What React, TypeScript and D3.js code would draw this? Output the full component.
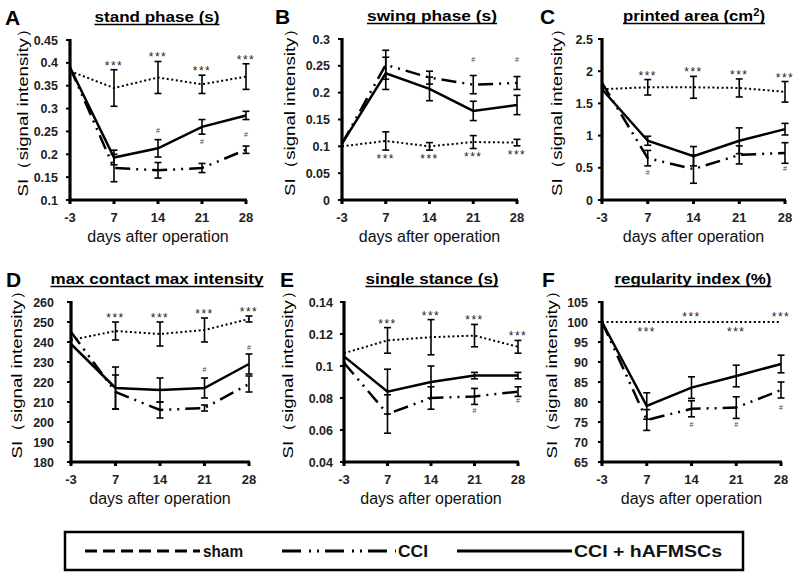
import React from "react";
import * as d3 from "d3";

// ---------- DATA ----------
const days = ["-3", "7", "14", "21", "28"];

// A: stand phase (s)
const ticksA = [0.1, 0.15, 0.2, 0.25, 0.3, 0.35, 0.4, 0.45];
const shamA = [0.382, 0.345, 0.368, 0.353, 0.37];
const shamErrA = [0, 0.04, 0.035, 0.02, 0.028];
const cciA = [0.39, 0.17, 0.165, 0.17, 0.21];
const cciErrA = [0, 0.03, 0.017, 0.01, 0.008];
const treatA = [0.39, 0.193, 0.213, 0.26, 0.285];
const treatErrA = [0, 0.016, 0.019, 0.016, 0.009];
const sigA = ["up", "up", "up", "up"];
const hashDaysA = ["14", "21", "28"];
const hashValsA = [0.253, 0.23, 0.245];

// B: swing phase (s)
const ticksB = [0, 0.05, 0.1, 0.15, 0.2, 0.25, 0.3];
const shamB = [0.1, 0.11, 0.1, 0.108, 0.107];
const shamErrB = [0, 0.017, 0.007, 0.012, 0.006];
const cciB = [0.105, 0.252, 0.228, 0.215, 0.218];
const cciErrB = [0, 0.027, 0.012, 0.017, 0.012];
const treatB = [0.105, 0.236, 0.207, 0.166, 0.177];
const treatErrB = [0, 0.03, 0.022, 0.018, 0.018];
const sigB = ["down", "down", "down", "down"];
const hashDaysB = ["21", "28"];
const hashValsB = [0.262, 0.262];

// C: printed area (cm2)
const ticksC = [0, 0.5, 1, 1.5, 2, 2.5];
const shamC = [1.72, 1.75, 1.75, 1.74, 1.68];
const shamErrC = [0, 0.12, 0.17, 0.14, 0.16];
const cciC = [1.82, 0.65, 0.48, 0.7, 0.73];
const cciErrC = [0, 0.12, 0.22, 0.14, 0.16];
const treatC = [1.72, 0.92, 0.68, 0.92, 1.1];
const treatErrC = [0, 0.07, 0.15, 0.2, 0.09];
const sigC = ["up", "up", "up", "up"];
const hashDaysC = ["7", "28"];
const hashValsC = [0.43, 0.49];

// D: max contact max intensity
const ticksD = [180, 190, 200, 210, 220, 230, 240, 250, 260];
const shamD = [241, 245.5, 244, 246, 251.5];
const shamErrD = [0, 4.5, 6, 6, 1.5];
const cciD = [245, 215, 206, 207, 219];
const cciErrD = [0, 8.5, 4, 1.5, 4];
const treatD = [239, 217, 216, 217, 229];
const treatErrD = [0, 10.5, 6, 5, 5];
const sigD = ["up", "up", "up", "up"];
const hashDaysD = ["21", "28"];
const hashValsD = [226.5, 237.7];

// E: single stance (s)
const ticksE = [0.04, 0.06, 0.08, 0.1, 0.12, 0.14];
const shamE = [0.108, 0.116, 0.118, 0.119, 0.112];
const shamErrE = [0, 0.008, 0.011, 0.007, 0.004];
const cciE = [0.102, 0.07, 0.08, 0.081, 0.084];
const cciErrE = [0, 0.012, 0.007, 0.005, 0.003];
const treatE = [0.106, 0.084, 0.09, 0.094, 0.094];
const treatErrE = [0, 0.014, 0.01, 0.002, 0.002];
const sigE = ["up", "up", "up", "up"];
const hashDaysE = ["21", "28"];
const hashValsE = [0.0724, 0.0787];

// F: regularity index (%)
const ticksF = [65, 70, 75, 80, 85, 90, 95, 100, 105];
const shamF = [100, 100, 100, 100, 100];
const shamErrF = [0, 0, 0, 0, 0];
const cciF = [100, 75.5, 78.3, 78.6, 83];
const cciErrF = [0, 2.6, 2, 2.7, 2];
const treatF = [100, 79, 83.6, 86.5, 89.5];
const treatErrF = [0, 3.3, 2.7, 2.7, 2.2];
const sigF = ["down", "up", "down", "up"];
const hashDaysF = ["14", "21", "28"];
const hashValsF = [74.6, 74.6, 78.8];

const legendLabels = ["sham", "CCI", "CCI + hAFMSCs"];

// ---------- CONFIG (built from arrays) ----------
const panels = [
  { letter: "A", title: "stand phase (s)", ticks: ticksA, sham: shamA, shamErr: shamErrA, cci: cciA, cciErr: cciErrA, treat: treatA, treatErr: treatErrA, sig: sigA, hashDays: hashDaysA, hashVals: hashValsA },
  { letter: "B", title: "swing phase (s)", ticks: ticksB, sham: shamB, shamErr: shamErrB, cci: cciB, cciErr: cciErrB, treat: treatB, treatErr: treatErrB, sig: sigB, hashDays: hashDaysB, hashVals: hashValsB },
  { letter: "C", title: "printed area (cm", sup: "2", titleEnd: ")", ticks: ticksC, sham: shamC, shamErr: shamErrC, cci: cciC, cciErr: cciErrC, treat: treatC, treatErr: treatErrC, sig: sigC, hashDays: hashDaysC, hashVals: hashValsC },
  { letter: "D", title: "max contact max intensity", ticks: ticksD, sham: shamD, shamErr: shamErrD, cci: cciD, cciErr: cciErrD, treat: treatD, treatErr: treatErrD, sig: sigD, hashDays: hashDaysD, hashVals: hashValsD },
  { letter: "E", title: "single stance (s)", ticks: ticksE, sham: shamE, shamErr: shamErrE, cci: cciE, cciErr: cciErrE, treat: treatE, treatErr: treatErrE, sig: sigE, hashDays: hashDaysE, hashVals: hashValsE },
  { letter: "F", title: "regularity index (%)", ticks: ticksF, sham: shamF, shamErr: shamErrF, cci: cciF, cciErr: cciErrF, treat: treatF, treatErr: treatErrF, sig: sigF, hashDays: hashDaysF, hashVals: hashValsF },
];

// layout (pixel geometry)
const layouts = [
  { left: 70, right: 246, top: 40, bottom: 200, letterX: 5, titleCx: 157, titleW: 125, ylabX: 23, tickGap: 12 },
  { left: 342, right: 517, top: 39, bottom: 200, letterX: 275, titleCx: 432, titleW: 130, ylabX: 290, tickGap: 12 },
  { left: 602, right: 785, top: 39, bottom: 200, letterX: 540, titleCx: 694, titleW: 142, ylabX: 557, tickGap: 9 },
  { left: 71, right: 249, top: 302, bottom: 462, letterX: 6, titleCx: 157, titleW: 213, ylabX: 17, tickGap: 17 },
  { left: 344, right: 518, top: 302, bottom: 462, letterX: 280, titleCx: 432, titleW: 133, ylabX: 288, tickGap: 11 },
  { left: 602, right: 781, top: 302, bottom: 462, letterX: 542, titleCx: 693, titleW: 157, ylabX: 552, tickGap: 14 },
];

const FONT = "'Liberation Sans', Arial, sans-serif";
const DOT = "2,2.6";
const DASHDOT = "15,6,2,6,2,6";

function Panel({ p, L }: any) {
  const x = d3.scalePoint<string>().domain(days).range([L.left, L.right]).padding(0);
  const y = d3.scaleLinear().domain([p.ticks[0], p.ticks[p.ticks.length - 1]]).range([L.bottom, L.top]);
  const line = d3.line<number>().x((_, i) => x(days[i]) as number).y((d) => y(d));
  const titleBase = L.top - 18;
  const series = [
    { vals: p.sham, errs: p.shamErr, dash: DOT, w: 2 },
    { vals: p.cci, errs: p.cciErr, dash: DASHDOT, w: 2.5 },
    { vals: p.treat, errs: p.treatErr, dash: undefined, w: 2.5 },
  ];
  return (
    <g>
      <text x={L.letterX} y={L.top - 15} fontFamily={FONT} fontWeight="bold" fontSize={21}>{p.letter}</text>
      <text x={L.titleCx} y={titleBase} textAnchor="middle" fontFamily={FONT} fontWeight="bold" fontSize={15}
        textLength={L.titleW} lengthAdjust="spacingAndGlyphs">
        {p.title}
        {p.sup ? <tspan fontSize={10} dy={-5}>{p.sup}</tspan> : null}
        {p.sup ? <tspan dy={5}>{p.titleEnd}</tspan> : null}
      </text>
      <line x1={L.titleCx - L.titleW / 2} x2={L.titleCx + L.titleW / 2} y1={titleBase + 2.5} y2={titleBase + 2.5} stroke="#000" strokeWidth={1.3} />
      <text transform={`translate(${L.ylabX + 5},${(L.top + L.bottom) / 2 - 12}) rotate(-90)`} textAnchor="middle"
        fontFamily={FONT} fontSize={15} textLength={177} lengthAdjust="spacingAndGlyphs">SI（signal intensity）</text>
      {p.ticks.map((t: number) => (
        <g key={t}>
          <line x1={L.left - 4} x2={L.left} y1={y(t)} y2={y(t)} stroke="#000" strokeWidth={2} />
          <text x={L.left - L.tickGap} y={y(t) + 4.5} textAnchor="end" fontFamily={FONT} fontWeight="bold" fontSize={12.5} fill="#222">{String(t)}</text>
        </g>
      ))}
      {days.map((d) => (
        <g key={d}>
          <line x1={x(d)} x2={x(d)} y1={L.bottom} y2={L.bottom + 4} stroke="#000" strokeWidth={3} />
          <text x={x(d)} y={L.bottom + 22} textAnchor="middle" fontFamily={FONT} fontWeight="bold" fontSize={13} fill="#222">{d}</text>
        </g>
      ))}
      <text x={(L.left + L.right) / 2} y={L.bottom + 42} textAnchor="middle" fontFamily={FONT} fontSize={16} fill="#111">days after operation</text>
      {series.map((s, si) => (
        <g key={si}>
          <path d={line(s.vals) as string} fill="none" stroke="#000" strokeWidth={s.w} strokeDasharray={s.dash} />
          {s.vals.map((v: number, i: number) =>
            s.errs[i] > 0 ? (
              <g key={i} stroke="#000" strokeWidth={1.6}>
                <line x1={x(days[i])} x2={x(days[i])} y1={y(v - s.errs[i])} y2={y(v + s.errs[i])} />
                <line x1={(x(days[i]) as number) - 3.5} x2={(x(days[i]) as number) + 3.5} y1={y(v - s.errs[i])} y2={y(v - s.errs[i])} />
                <line x1={(x(days[i]) as number) - 3.5} x2={(x(days[i]) as number) + 3.5} y1={y(v + s.errs[i])} y2={y(v + s.errs[i])} />
              </g>
            ) : null
          )}
        </g>
      ))}
      {p.sig.map((dir: string, k: number) => {
        const i = k + 1;
        const v = p.sham[i];
        const e = p.shamErr[i];
        const yy = dir === "up" ? y(v + e) - (e > 0 ? 0 : 1) : y(v - e) + (e > 0 ? 13 : 14);
        return (
          <text key={k} x={x(days[i])} y={yy} textAnchor="middle" fontFamily={FONT} fontSize={12} letterSpacing={1.5} fill="#222">***</text>
        );
      })}
      {p.hashDays.map((d: string, k: number) => (
        <text key={d} x={x(d)} y={y(p.hashVals[k]) + 3} textAnchor="middle" fontFamily={FONT} fontSize={7} fill="#444">#</text>
      ))}
      <line x1={L.left} x2={L.left} y1={L.top - 1} y2={L.bottom + 1.5} stroke="#000" strokeWidth={3.2} />
      <line x1={L.left - 1.5} x2={L.right + 1} y1={L.bottom} y2={L.bottom} stroke="#000" strokeWidth={3} />
    </g>
  );
}

function Legend() {
  const cy = 551;
  return (
    <g fontFamily={FONT} fontWeight="bold" fontSize={16} fill="#111">
      <rect x={65} y={532} width={678} height={38} fill="none" stroke="#000" strokeWidth={2.5} />
      <line x1={85} x2={200} y1={cy} y2={cy} stroke="#000" strokeWidth={3} strokeDasharray="12,6" />
      <text x={203} y={cy + 6} textLength={40} lengthAdjust="spacingAndGlyphs">{legendLabels[0]}</text>
      <line x1={282} x2={396} y1={cy} y2={cy} stroke="#000" strokeWidth={3} strokeDasharray="19,8,2,6,2,6" />
      <text x={398} y={cy + 6} textLength={30} lengthAdjust="spacingAndGlyphs">{legendLabels[1]}</text>
      <line x1={457} x2={572} y1={cy} y2={cy} stroke="#000" strokeWidth={3} />
      <text x={574} y={cy + 6} textLength={148} lengthAdjust="spacingAndGlyphs">{legendLabels[2]}</text>
    </g>
  );
}

export default function App() {
  return (
    <svg width={800} height={575} viewBox="0 0 800 575" style={{ position: "absolute", left: 0, top: 0, background: "#fff" }}>
      <rect width={800} height={575} fill="#fff" />
      {panels.map((p, i) => (
        <Panel key={p.letter} p={p} L={layouts[i]} />
      ))}
      <Legend />
    </svg>
  );
}
